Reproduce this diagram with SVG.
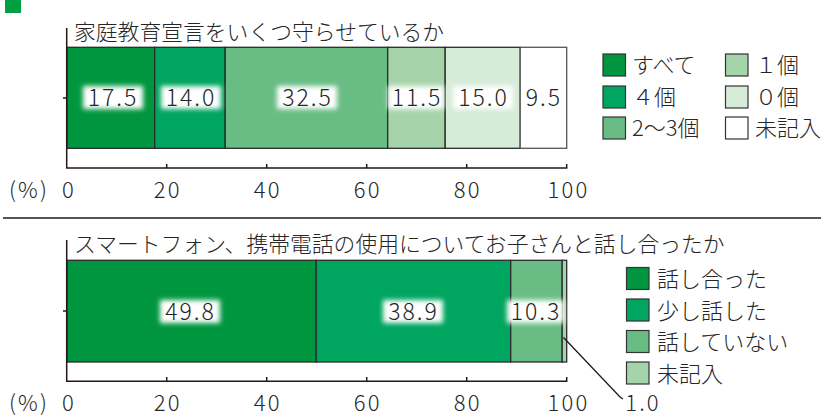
<svg xmlns="http://www.w3.org/2000/svg" width="822" height="416" viewBox="0 0 822 416">
<defs>
<style>
text{font-family:"Noto Sans CJK JP","Noto Sans",sans-serif;fill:#262626;font-weight:300;}
.t{font-size:21.8px;}
.lg{font-size:22px;}
.ax{font-size:22px;text-anchor:middle;letter-spacing:2.2px;}
.v{font-size:23px;text-anchor:middle;letter-spacing:2px;}
.seg{stroke:#2a2a2a;stroke-width:1.3;}
.ln{stroke:#231815;stroke-width:1.5;fill:none;}
.sq{stroke:#333;stroke-width:1.2;}
.c1{fill:#00963f;}
.c2{fill:#00a55f;}
.c3{fill:#69bc84;}
.c4{fill:#a6d4aa;}
.c5{fill:#d6ebd8;}
.c6{fill:#ffffff;}
.glow{fill:#fff;filter:url(#blur);}
</style>
<filter id="blur" x="-30%" y="-50%" width="160%" height="200%">
<feGaussianBlur stdDeviation="2.8"/>
</filter>
</defs>
<rect width="822" height="416" fill="#fff"/>
<rect x="5" y="0" width="16" height="13" fill="#00a040"/>

<!-- Chart 1 -->
<g id="chart1-title"><text class="t" x="74" y="40">家庭教育宣言をいくつ守らせているか</text></g>
<g id="chart1-bars">
<rect id="c1-s1" class="c1 seg" x="66.7" y="47.3" width="88" height="101"/>
<rect id="c1-s2" class="c2 seg" x="154.7" y="47.3" width="70.5" height="101"/>
<rect id="c1-s3" class="c3 seg" x="225.2" y="47.3" width="162.5" height="101"/>
<rect id="c1-s4" class="c4 seg" x="387.7" y="47.3" width="57.5" height="101"/>
<rect id="c1-s5" class="c5 seg" x="445.2" y="47.3" width="75" height="101"/>
<rect id="c1-s6" class="c6 seg" x="520.2" y="47.3" width="46.5" height="101" style="stroke:#555"/>
</g>
<g id="chart1-labels">
<rect class="glow" x="83" y="86" width="60" height="23"/>
<text class="v" x="113" y="106">17.5</text>
<rect class="glow" x="161" y="86" width="60" height="23"/>
<text class="v" x="191" y="106">14.0</text>
<rect class="glow" x="277" y="86" width="60" height="23"/>
<text class="v" x="307.5" y="106">32.5</text>
<rect class="glow" x="388" y="86" width="56" height="23"/>
<text class="v" x="417" y="106">11.5</text>
<rect class="glow" x="453" y="86" width="60" height="23"/>
<text class="v" x="483.5" y="106">15.0</text>
<text class="v" x="544" y="106">9.5</text>
</g>
<g id="chart1-axis">
<path class="ln" d="M66.7 28 V168 H566.7 V164 M166.7 168 V164 M266.7 168 V164 M366.7 168 V164 M466.7 168 V164 M63 98 H66.7"/>
<text class="ax" x="29" y="198">(%)</text>
<text class="ax" x="69" y="198">0</text>
<text class="ax" x="167.7" y="198">20</text>
<text class="ax" x="267.7" y="198">40</text>
<text class="ax" x="367.7" y="198">60</text>
<text class="ax" x="467.7" y="198">80</text>
<text class="ax" x="568.5" y="198">100</text>
</g>
<g id="chart1-legend">
<rect class="sq c1" x="603" y="54" width="22.5" height="22"/>
<text class="lg" x="632" y="73">すべて</text>
<rect class="sq c2" x="603" y="86" width="22.5" height="22"/>
<text class="lg" x="632" y="105">４個</text>
<rect class="sq c3" x="603" y="117" width="22.5" height="22"/>
<text class="lg" x="632" y="136">2～3個</text>
<rect class="sq c4" x="725.5" y="54" width="22.5" height="22"/>
<text class="lg" x="755" y="73">１個</text>
<rect class="sq c5" x="725.5" y="86" width="22.5" height="22"/>
<text class="lg" x="755" y="105">０個</text>
<rect class="sq c6" x="725.5" y="117" width="22.5" height="22"/>
<text class="lg" x="755" y="136">未記入</text>
</g>

<line class="ln" x1="3" y1="218" x2="821" y2="218" style="stroke-width:1.3"/>

<!-- Chart 2 -->
<g id="chart2-title"><text class="t" x="74" y="252">スマートフォン、携帯電話の使用についてお子さんと話し合ったか</text></g>
<g id="chart2-bars">
<rect id="c2-s1" class="c1 seg" x="66.7" y="260.3" width="249.5" height="101.7"/>
<rect id="c2-s2" class="c2 seg" x="316.2" y="260.3" width="194.5" height="101.7"/>
<rect id="c2-s3" class="c3 seg" x="510.7" y="260.3" width="51.5" height="101.7"/>
<rect id="c2-s4" class="c4 seg" x="562.2" y="260.3" width="4.5" height="101.7"/>
</g>
<g id="chart2-labels">
<rect class="glow" x="160" y="300" width="60" height="23"/>
<text class="v" x="190.5" y="320">49.8</text>
<rect class="glow" x="383" y="300" width="60" height="23"/>
<text class="v" x="413.5" y="320">38.9</text>
<rect class="glow" x="507" y="300" width="57" height="23"/>
<text class="v" x="536" y="320">10.3</text>
</g>
<g id="connectors">
<path class="ln" d="M563.5 337.5 L620 397 L623 399" style="stroke-width:1.3"/>
</g>
<g id="chart2-axis">
<path class="ln" d="M66.7 240 V381.3 H566.7 V377 M166.7 381.3 V377 M266.7 381.3 V377 M366.7 381.3 V377 M466.7 381.3 V377 M63 311 H66.7"/>
<text class="ax" x="29" y="411">(%)</text>
<text class="ax" x="69" y="411">0</text>
<text class="ax" x="167.7" y="411">20</text>
<text class="ax" x="267.7" y="411">40</text>
<text class="ax" x="367.7" y="411">60</text>
<text class="ax" x="467.7" y="411">80</text>
<text class="ax" x="568.5" y="411">100</text>
<text class="ax" x="643" y="411">1.0</text>
</g>
<g id="chart2-legend">
<rect class="sq c1" x="626.5" y="267.5" width="22.5" height="22"/>
<text class="lg" x="657" y="287">話し合った</text>
<rect class="sq c2" x="626.5" y="299" width="22.5" height="22"/>
<text class="lg" x="657" y="318.5">少し話した</text>
<rect class="sq c3" x="626.5" y="330.5" width="22.5" height="22"/>
<text class="lg" x="657" y="350">話していない</text>
<rect class="sq c4" x="626.5" y="362" width="22.5" height="22"/>
<text class="lg" x="657" y="381.5">未記入</text>
</g>
</svg>
